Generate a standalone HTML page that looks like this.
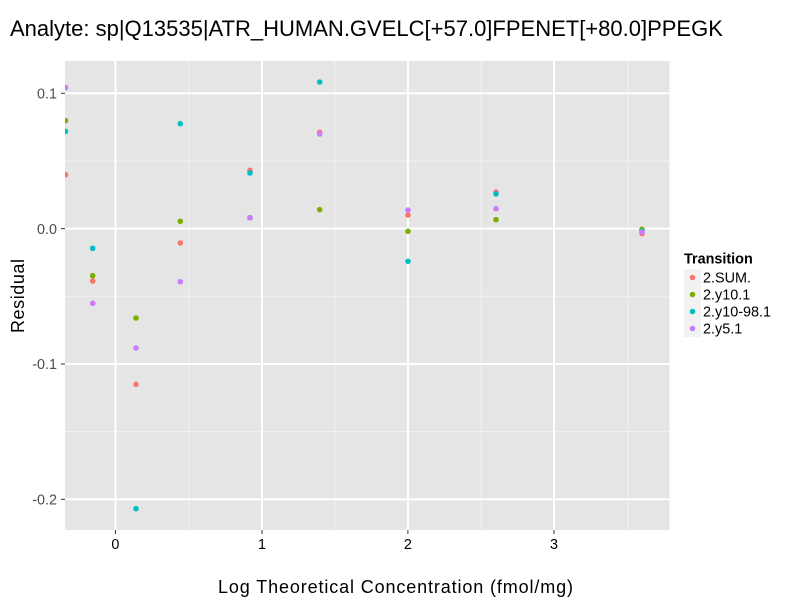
<!DOCTYPE html>
<html>
<head>
<meta charset="utf-8">
<style>
html,body{margin:0;padding:0;background:#fff;}
svg{display:block;}
text{font-family:"Liberation Sans",Arial,sans-serif;}
</style>
</head>
<body>
<svg width="800" height="600" viewBox="0 0 800 600" xmlns="http://www.w3.org/2000/svg">
<defs>
<clipPath id="pc"><rect x="65" y="61" width="604.5" height="469"/></clipPath>
</defs>
<rect x="0" y="0" width="800" height="600" fill="#fff"/>
<!-- title -->
<text x="10" y="36" font-size="22" fill="#000">Analyte: sp|Q13535|ATR_HUMAN.GVELC[+57.0]FPENET[+80.0]PPEGK</text>
<!-- panel -->
<rect x="65" y="61" width="604.5" height="469" fill="#E5E5E5"/>
<g stroke="#F2F2F2" stroke-width="1">
<line x1="65" x2="669.5" y1="161" y2="161"/>
<line x1="65" x2="669.5" y1="296.3" y2="296.3"/>
<line x1="65" x2="669.5" y1="431.6" y2="431.6"/>
<line y1="61" y2="530" x1="188.7" x2="188.7"/>
<line y1="61" y2="530" x1="334.8" x2="334.8"/>
<line y1="61" y2="530" x1="481" x2="481"/>
<line y1="61" y2="530" x1="627.8" x2="627.8"/>
</g>
<g stroke="#FFFFFF" stroke-width="2">
<line x1="65" x2="669.5" y1="93.3" y2="93.3"/>
<line x1="65" x2="669.5" y1="228.6" y2="228.6"/>
<line x1="65" x2="669.5" y1="364" y2="364"/>
<line x1="65" x2="669.5" y1="499.3" y2="499.3"/>
<line y1="61" y2="530" x1="115.4" x2="115.4"/>
<line y1="61" y2="530" x1="262" x2="262"/>
<line y1="61" y2="530" x1="407.9" x2="407.9"/>
<line y1="61" y2="530" x1="554" x2="554"/>
</g>
<!-- points -->
<g clip-path="url(#pc)">
<g fill="#F8766D">
<circle cx="65.5" cy="174.7" r="2.8"/>
<circle cx="92.7" cy="281" r="2.8"/>
<circle cx="136" cy="384.3" r="2.8"/>
<circle cx="180.3" cy="243" r="2.8"/>
<circle cx="250" cy="170.3" r="2.8"/>
<circle cx="319.7" cy="132.3" r="2.8"/>
<circle cx="408" cy="215" r="2.8"/>
<circle cx="496" cy="192" r="2.8"/>
<circle cx="642" cy="233.7" r="2.8"/>
</g>
<g fill="#7CAE00">
<circle cx="65.5" cy="120.7" r="2.8"/>
<circle cx="92.7" cy="275.7" r="2.8"/>
<circle cx="136" cy="318" r="2.8"/>
<circle cx="180.3" cy="221.3" r="2.8"/>
<circle cx="250" cy="217.7" r="2.8"/>
<circle cx="319.7" cy="209.7" r="2.8"/>
<circle cx="408" cy="231.3" r="2.8"/>
<circle cx="496" cy="219.7" r="2.8"/>
<circle cx="642" cy="229.3" r="2.8"/>
</g>
<g fill="#00BFC4">
<circle cx="65.5" cy="131.3" r="2.8"/>
<circle cx="92.7" cy="248.3" r="2.8"/>
<circle cx="136" cy="508.7" r="2.8"/>
<circle cx="180.3" cy="123.7" r="2.8"/>
<circle cx="250" cy="173" r="2.8"/>
<circle cx="319.7" cy="82" r="2.8"/>
<circle cx="408" cy="261.3" r="2.8"/>
<circle cx="496" cy="194" r="2.8"/>
<circle cx="642" cy="231" r="2.8"/>
</g>
<g fill="#C77CFF">
<circle cx="65.5" cy="87.5" r="2.8"/>
<circle cx="92.7" cy="303.3" r="2.8"/>
<circle cx="136" cy="348" r="2.8"/>
<circle cx="180.3" cy="281.7" r="2.8"/>
<circle cx="250" cy="217.7" r="2.8"/>
<circle cx="319.7" cy="134" r="2.8"/>
<circle cx="408" cy="210" r="2.8"/>
<circle cx="496" cy="208.7" r="2.8"/>
<circle cx="642" cy="232" r="2.8"/>
</g>
</g>
<!-- ticks -->
<g stroke="#333333" stroke-width="1">
<line x1="61" x2="65" y1="93.3" y2="93.3"/>
<line x1="61" x2="65" y1="228.6" y2="228.6"/>
<line x1="61" x2="65" y1="364" y2="364"/>
<line x1="61" x2="65" y1="499.3" y2="499.3"/>
<line y1="530" y2="534" x1="115.4" x2="115.4"/>
<line y1="530" y2="534" x1="262" x2="262"/>
<line y1="530" y2="534" x1="407.9" x2="407.9"/>
<line y1="530" y2="534" x1="554" x2="554"/>
</g>
<g font-size="14.4" fill="#4D4D4D" text-anchor="end">
<text x="57" y="98.5">0.1</text>
<text x="57" y="233.8">0.0</text>
<text x="57" y="369.2">-0.1</text>
<text x="57" y="504.5">-0.2</text>
</g>
<g font-size="14.4" fill="#000" text-anchor="middle">
<text x="115.4" y="549">0</text>
<text x="262" y="549">1</text>
<text x="407.9" y="549">2</text>
<text x="554" y="549">3</text>
</g>
<!-- axis titles -->
<text x="218" y="593" font-size="18" fill="#000" textLength="355" lengthAdjust="spacing">Log Theoretical Concentration (fmol/mg)</text>
<text transform="translate(24,333) rotate(-90)" font-size="18" fill="#000" textLength="74" lengthAdjust="spacing">Residual</text>
<!-- legend -->
<text x="684" y="263.3" font-size="14.4" font-weight="bold" fill="#000">Transition</text>
<g fill="#F2F2F2">
<rect x="684" y="269" width="17" height="17"/>
<rect x="684" y="286" width="17" height="17"/>
<rect x="684" y="303" width="17" height="17"/>
<rect x="684" y="320" width="17" height="17"/>
</g>
<circle cx="692.5" cy="277.5" r="2.8" fill="#F8766D"/>
<circle cx="692.5" cy="294.5" r="2.8" fill="#7CAE00"/>
<circle cx="692.5" cy="311.5" r="2.8" fill="#00BFC4"/>
<circle cx="692.5" cy="328.5" r="2.8" fill="#C77CFF"/>
<g font-size="14.4" fill="#000">
<text x="703" y="282.5">2.SUM.</text>
<text x="703" y="299.5">2.y10.1</text>
<text x="703" y="316.5">2.y10-98.1</text>
<text x="703" y="333.5">2.y5.1</text>
</g>
</svg>
</body>
</html>
